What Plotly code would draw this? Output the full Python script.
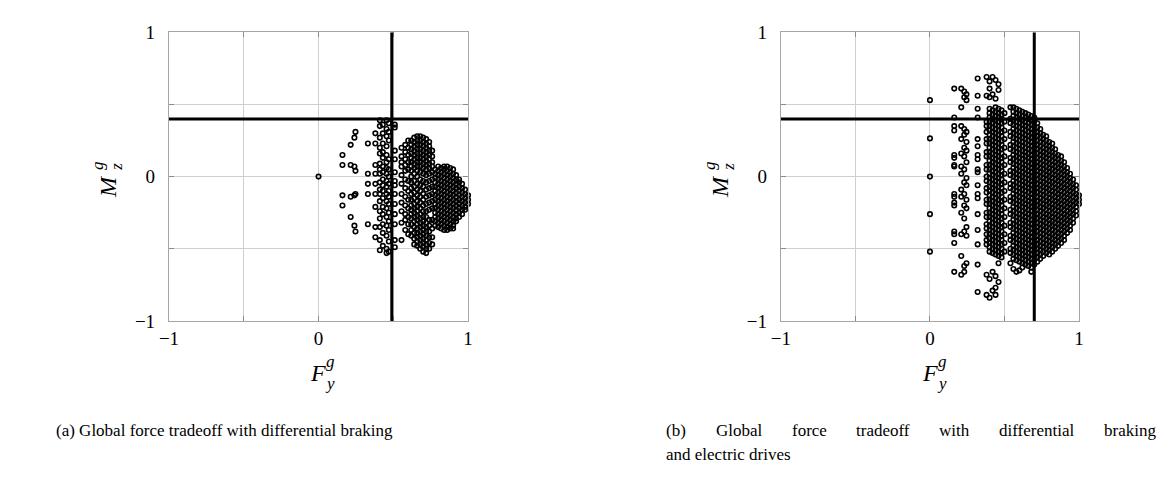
import plotly.graph_objects as go

# ---------------- data ----------------
tick_vals = [-1, -0.5, 0, 0.5, 1]
tick_text = ["\u22121", "", "0", "", "1"]

a_hline = 0.4
a_vline = 0.49
b_hline = 0.4
b_vline = 0.70

# (a) differential braking: points grouped by column (x) with their M_z values
a_col_x = [0.0, 0.16, 0.215, 0.24, 0.247, 0.33, 0.38, 0.41, 0.43, 0.455, 0.47, 0.51,
           0.555, 0.58, 0.60, 0.62, 0.64, 0.66, 0.68, 0.70, 0.72, 0.74, 0.76,
           0.78, 0.80, 0.82, 0.84, 0.86, 0.88, 0.90, 0.92, 0.94, 0.96, 0.98, 1.00]
a_col_y = [
    [0.0],
    [0.15, 0.08, -0.13, -0.2],
    [0.22, 0.08, -0.14, -0.28],
    [0.27, 0.07, -0.13, -0.34],
    [0.31, 0.04, -0.12, -0.38],
    [0.23, 0.02, -0.05, -0.12, -0.33],
    [0.3, 0.23, 0.08, 0.02, -0.05, -0.12, -0.21, -0.35, -0.42],
    [0.39, 0.35, 0.27, 0.2, 0.16, 0.09, 0.05, 0.02, -0.04, -0.09, -0.12, -0.17, -0.24, -0.29, -0.35, -0.44, -0.51],
    [0.36, 0.3, 0.23, 0.17, 0.13, 0.07, 0.03, -0.02, -0.06, -0.1, -0.15, -0.21, -0.26, -0.33, -0.39, -0.48],
    [0.39, 0.33, 0.28, 0.21, 0.15, 0.1, 0.06, 0.02, -0.03, -0.07, -0.12, -0.17, -0.22, -0.28, -0.34, -0.41, -0.5, -0.53],
    [0.37, 0.31, 0.25, 0.12, 0.05, 0.0, -0.05, -0.1, -0.14, -0.19, -0.25, -0.31, -0.37, -0.45, -0.52],
    [0.36, 0.34, 0.18, 0.12, 0.03, -0.03, -0.06, -0.12, -0.19, -0.26, -0.33, -0.44, -0.49],
    [0.2, 0.14, 0.1, 0.07, 0.01, -0.05, -0.12, -0.18, -0.24, -0.32, -0.44],
    [0.22, 0.17, 0.12, 0.08, 0.04, -0.02, -0.08, -0.14, -0.2, -0.26, -0.3, -0.37],
    [0.25, 0.2, 0.15, 0.1, 0.05, -0.03, -0.1, -0.16, -0.22, -0.28, -0.33, -0.4],
    [0.25, 0.22, 0.19, 0.16, 0.13, 0.1, 0.07, 0.04, 0.0, -0.04, -0.08, -0.12, -0.16, -0.2, -0.23, -0.26, -0.29, -0.33, -0.37, -0.41],
    [0.27, 0.24, 0.21, 0.18, 0.15, 0.12, 0.09, 0.06, 0.02, -0.03, -0.07, -0.11, -0.15, -0.19, -0.22, -0.25, -0.28, -0.31, -0.35, -0.39, -0.43, -0.47],
    [0.28, 0.25, 0.22, 0.19, 0.16, 0.13, 0.1, 0.07, 0.04, 0.0, -0.05, -0.09, -0.13, -0.17, -0.21, -0.24, -0.27, -0.3, -0.33, -0.36, -0.39, -0.42, -0.45, -0.48],
    [0.28, 0.25, 0.22, 0.19, 0.16, 0.13, 0.1, 0.07, 0.03, -0.02, -0.06, -0.1, -0.14, -0.18, -0.22, -0.26, -0.29, -0.32, -0.35, -0.38, -0.41, -0.44, -0.47, -0.5],
    [0.27, 0.24, 0.21, 0.18, 0.15, 0.12, 0.09, 0.06, 0.02, -0.03, -0.07, -0.12, -0.16, -0.2, -0.24, -0.28, -0.31, -0.34, -0.37, -0.4, -0.43, -0.46, -0.49, -0.52],
    [0.26, 0.23, 0.2, 0.17, 0.14, 0.11, 0.08, 0.05, 0.01, -0.04, -0.09, -0.14, -0.19, -0.24, -0.28, -0.32, -0.35, -0.38, -0.41, -0.44, -0.47, -0.5, -0.53],
    [0.24, 0.21, 0.18, 0.15, 0.12, 0.09, 0.06, 0.02, -0.03, -0.08, -0.13, -0.18, -0.23, -0.3, -0.34, -0.38, -0.42, -0.46, -0.5],
    [0.18, 0.14, 0.1, 0.07, 0.03, -0.02, -0.07, -0.12, -0.17, -0.22, -0.3, -0.36, -0.42, -0.47],
    [0.05, 0.02, -0.01, -0.04, -0.07, -0.1, -0.13, -0.16, -0.19, -0.22, -0.25, -0.28, -0.31, -0.34],
    [0.07, 0.04, 0.01, -0.02, -0.05, -0.08, -0.11, -0.14, -0.17, -0.2, -0.23, -0.26, -0.29, -0.32, -0.35],
    [0.06, 0.03, 0.0, -0.03, -0.06, -0.09, -0.12, -0.15, -0.18, -0.21, -0.24, -0.27, -0.3, -0.33, -0.36],
    [0.07, 0.05, 0.02, -0.01, -0.04, -0.07, -0.1, -0.13, -0.16, -0.19, -0.22, -0.25, -0.28, -0.31, -0.34, -0.37],
    [0.07, 0.04, 0.01, -0.02, -0.05, -0.08, -0.11, -0.14, -0.17, -0.2, -0.23, -0.26, -0.29, -0.32, -0.35, -0.37],
    [0.06, 0.03, 0.0, -0.03, -0.06, -0.09, -0.12, -0.15, -0.18, -0.21, -0.24, -0.27, -0.3, -0.33, -0.36],
    [0.05, 0.02, -0.01, -0.04, -0.07, -0.1, -0.13, -0.16, -0.19, -0.22, -0.25, -0.28, -0.31, -0.34, -0.36],
    [0.01, -0.02, -0.05, -0.08, -0.11, -0.14, -0.17, -0.2, -0.23, -0.26, -0.29, -0.31],
    [-0.02, -0.04, -0.07, -0.1, -0.13, -0.16, -0.19, -0.22, -0.25, -0.28],
    [-0.05, -0.08, -0.11, -0.14, -0.17, -0.2, -0.23, -0.26],
    [-0.09, -0.12, -0.15, -0.18, -0.21, -0.23],
    [-0.13, -0.16, -0.19],
]

# (b) differential braking and electric drives
b_col_x = [0.0, 0.163, 0.21, 0.23, 0.245, 0.32, 0.38, 0.40, 0.42, 0.44, 0.46, 0.48, 0.50,
           0.54, 0.56, 0.58, 0.60, 0.62, 0.64, 0.66, 0.68,
           0.70, 0.72, 0.74, 0.76, 0.78, 0.80, 0.82, 0.84, 0.86, 0.88, 0.90, 0.92, 0.94, 0.96, 0.98, 1.00]
b_col_y = [
    [0.53, 0.265, 0.0, -0.26, -0.52],
    [0.61, 0.41, 0.35, 0.32, 0.15, 0.13, 0.08, 0.07, -0.12, -0.14, -0.18, -0.2, -0.38, -0.4, -0.46, -0.66],
    [0.61, 0.48, 0.35, 0.26, 0.16, 0.07, 0.02, -0.09, -0.14, -0.25, -0.4, -0.55, -0.68],
    [0.59, 0.55, 0.33, 0.29, 0.2, 0.14, 0.05, -0.04, -0.12, -0.2, -0.29, -0.38, -0.62, -0.66],
    [0.57, 0.53, 0.31, 0.24, 0.18, 0.1, -0.01, -0.06, -0.16, -0.22, -0.35, -0.41, -0.6],
    [0.68, 0.56, 0.47, 0.41, 0.26, 0.21, 0.15, 0.12, 0.05, 0.03, -0.06, -0.12, -0.15, -0.26, -0.37, -0.47, -0.61, -0.8],
    [0.69, 0.56, 0.38, 0.35, 0.31, 0.26, 0.23, 0.17, 0.14, 0.08, 0.05, 0.0, -0.03, -0.08, -0.11, -0.16, -0.19, -0.25, -0.28, -0.33, -0.36, -0.4, -0.44, -0.47, -0.68, -0.82],
    [0.66, 0.61, 0.55, 0.47, 0.44, 0.41, 0.38, 0.35, 0.32, 0.29, 0.26, 0.23, 0.2, 0.17, 0.14, 0.11, 0.08, 0.05, 0.02, -0.01, -0.04, -0.07, -0.1, -0.13, -0.16, -0.19, -0.22, -0.25, -0.28, -0.31, -0.34, -0.37, -0.4, -0.43, -0.46, -0.49, -0.52, -0.71, -0.84],
    [0.69, 0.57, 0.46, 0.43, 0.4, 0.37, 0.34, 0.31, 0.28, 0.25, 0.22, 0.19, 0.16, 0.13, 0.1, 0.07, 0.04, 0.01, -0.02, -0.05, -0.08, -0.11, -0.14, -0.17, -0.2, -0.23, -0.26, -0.29, -0.32, -0.35, -0.38, -0.41, -0.44, -0.47, -0.5, -0.53, -0.66, -0.79],
    [0.67, 0.54, 0.48, 0.45, 0.42, 0.39, 0.36, 0.33, 0.3, 0.27, 0.24, 0.21, 0.18, 0.15, 0.12, 0.09, 0.06, 0.03, 0.0, -0.03, -0.06, -0.09, -0.12, -0.15, -0.18, -0.21, -0.24, -0.27, -0.3, -0.33, -0.36, -0.39, -0.42, -0.45, -0.48, -0.51, -0.54, -0.69, -0.77, -0.82],
    [0.64, 0.6, 0.47, 0.44, 0.41, 0.38, 0.35, 0.32, 0.29, 0.26, 0.23, 0.2, 0.17, 0.14, 0.11, 0.08, 0.05, 0.02, -0.01, -0.04, -0.07, -0.1, -0.13, -0.16, -0.19, -0.22, -0.25, -0.28, -0.31, -0.34, -0.37, -0.4, -0.43, -0.46, -0.49, -0.52, -0.55, -0.6, -0.73],
    [0.46, 0.43, 0.4, 0.37, 0.34, 0.31, 0.28, 0.25, 0.22, 0.19, 0.16, 0.13, 0.1, 0.07, 0.04, 0.01, -0.02, -0.05, -0.08, -0.11, -0.14, -0.17, -0.2, -0.23, -0.26, -0.29, -0.32, -0.35, -0.38, -0.41, -0.44, -0.47, -0.5, -0.53, -0.56],
    [0.44, 0.38, 0.32, 0.26, 0.2, 0.14, 0.08, 0.02, -0.04, -0.1, -0.16, -0.22, -0.28, -0.34, -0.4, -0.46, -0.52],
    [0.48, 0.4, 0.37, 0.31, 0.28, 0.22, 0.19, 0.13, 0.1, 0.04, 0.01, -0.05, -0.08, -0.14, -0.17, -0.23, -0.26, -0.32, -0.35, -0.41, -0.44, -0.5, -0.53, -0.6],
    [0.48, 0.45, 0.42, 0.39, 0.36, 0.33, 0.3, 0.27, 0.24, 0.21, 0.18, 0.15, 0.12, 0.09, 0.06, 0.03, 0.0, -0.03, -0.06, -0.09, -0.12, -0.15, -0.18, -0.21, -0.24, -0.27, -0.3, -0.33, -0.36, -0.39, -0.42, -0.45, -0.48, -0.51, -0.54, -0.57, -0.64],
    [0.47, 0.44, 0.41, 0.38, 0.35, 0.32, 0.29, 0.26, 0.23, 0.2, 0.17, 0.14, 0.11, 0.08, 0.05, 0.02, -0.01, -0.04, -0.07, -0.1, -0.13, -0.16, -0.19, -0.22, -0.25, -0.28, -0.31, -0.34, -0.37, -0.4, -0.43, -0.46, -0.49, -0.52, -0.55, -0.58, -0.66],
    [0.46, 0.43, 0.4, 0.37, 0.34, 0.31, 0.28, 0.25, 0.22, 0.19, 0.16, 0.13, 0.1, 0.07, 0.04, 0.01, -0.02, -0.05, -0.08, -0.11, -0.14, -0.17, -0.2, -0.23, -0.26, -0.29, -0.32, -0.35, -0.38, -0.41, -0.44, -0.47, -0.5, -0.53, -0.56, -0.59, -0.65],
    [0.45, 0.42, 0.39, 0.36, 0.33, 0.3, 0.27, 0.24, 0.21, 0.18, 0.15, 0.12, 0.09, 0.06, 0.03, 0.0, -0.03, -0.06, -0.09, -0.12, -0.15, -0.18, -0.21, -0.24, -0.27, -0.3, -0.33, -0.36, -0.39, -0.42, -0.45, -0.48, -0.51, -0.54, -0.57, -0.6, -0.63],
    [0.44, 0.41, 0.38, 0.35, 0.32, 0.29, 0.26, 0.23, 0.2, 0.17, 0.14, 0.11, 0.08, 0.05, 0.02, -0.01, -0.04, -0.07, -0.1, -0.13, -0.16, -0.19, -0.22, -0.25, -0.28, -0.31, -0.34, -0.37, -0.4, -0.43, -0.46, -0.49, -0.52, -0.55, -0.58, -0.61],
    [0.43, 0.4, 0.37, 0.34, 0.31, 0.28, 0.25, 0.22, 0.19, 0.16, 0.13, 0.1, 0.07, 0.04, 0.01, -0.02, -0.05, -0.08, -0.11, -0.14, -0.17, -0.2, -0.23, -0.26, -0.29, -0.32, -0.35, -0.38, -0.41, -0.44, -0.47, -0.5, -0.53, -0.56, -0.59, -0.62],
    [0.42, 0.39, 0.36, 0.33, 0.3, 0.27, 0.24, 0.21, 0.18, 0.15, 0.12, 0.09, 0.06, 0.03, 0.0, -0.03, -0.06, -0.09, -0.12, -0.15, -0.18, -0.21, -0.24, -0.27, -0.3, -0.33, -0.36, -0.39, -0.42, -0.45, -0.48, -0.51, -0.54, -0.57, -0.6, -0.63, -0.66],
    [0.41, 0.38, 0.35, 0.32, 0.29, 0.26, 0.23, 0.2, 0.17, 0.14, 0.11, 0.08, 0.05, 0.02, -0.01, -0.04, -0.07, -0.1, -0.13, -0.16, -0.19, -0.22, -0.25, -0.28, -0.31, -0.34, -0.37, -0.4, -0.43, -0.46, -0.49, -0.52, -0.55, -0.58, -0.61],
    [0.37, 0.34, 0.31, 0.28, 0.25, 0.22, 0.19, 0.16, 0.13, 0.1, 0.07, 0.04, 0.01, -0.02, -0.05, -0.08, -0.11, -0.14, -0.17, -0.2, -0.23, -0.26, -0.29, -0.32, -0.35, -0.38, -0.41, -0.44, -0.47, -0.5, -0.53, -0.56, -0.59],
    [0.33, 0.3, 0.27, 0.24, 0.21, 0.18, 0.15, 0.12, 0.09, 0.06, 0.03, 0.0, -0.03, -0.06, -0.09, -0.12, -0.15, -0.18, -0.21, -0.24, -0.27, -0.3, -0.33, -0.36, -0.39, -0.42, -0.45, -0.48, -0.51, -0.54, -0.57],
    [0.29, 0.26, 0.23, 0.2, 0.17, 0.14, 0.11, 0.08, 0.05, 0.02, -0.01, -0.04, -0.07, -0.1, -0.13, -0.16, -0.19, -0.22, -0.25, -0.28, -0.31, -0.34, -0.37, -0.4, -0.43, -0.46, -0.49, -0.52, -0.55],
    [0.28, 0.25, 0.22, 0.19, 0.16, 0.13, 0.1, 0.07, 0.04, 0.01, -0.02, -0.05, -0.08, -0.11, -0.14, -0.17, -0.2, -0.23, -0.26, -0.29, -0.32, -0.35, -0.38, -0.41, -0.44, -0.47, -0.5, -0.53],
    [0.24, 0.21, 0.18, 0.15, 0.12, 0.09, 0.06, 0.03, 0.0, -0.03, -0.06, -0.09, -0.12, -0.15, -0.18, -0.21, -0.24, -0.27, -0.3, -0.33, -0.36, -0.39, -0.42, -0.45, -0.48, -0.51, -0.54],
    [0.23, 0.2, 0.17, 0.14, 0.11, 0.08, 0.05, 0.02, -0.01, -0.04, -0.07, -0.1, -0.13, -0.16, -0.19, -0.22, -0.25, -0.28, -0.31, -0.34, -0.37, -0.4, -0.43, -0.46, -0.49, -0.52],
    [0.19, 0.16, 0.13, 0.1, 0.07, 0.04, 0.01, -0.02, -0.05, -0.08, -0.11, -0.14, -0.17, -0.2, -0.23, -0.26, -0.29, -0.32, -0.35, -0.38, -0.41, -0.44, -0.47, -0.5],
    [0.15, 0.12, 0.09, 0.06, 0.03, 0.0, -0.03, -0.06, -0.09, -0.12, -0.15, -0.18, -0.21, -0.24, -0.27, -0.3, -0.33, -0.36, -0.39, -0.42, -0.45, -0.48],
    [0.14, 0.11, 0.08, 0.05, 0.02, -0.01, -0.04, -0.07, -0.1, -0.13, -0.16, -0.19, -0.22, -0.25, -0.28, -0.31, -0.34, -0.37, -0.4, -0.43, -0.46],
    [0.1, 0.07, 0.04, 0.01, -0.02, -0.05, -0.08, -0.11, -0.14, -0.17, -0.2, -0.23, -0.26, -0.29, -0.32, -0.35, -0.38, -0.41, -0.44],
    [0.06, 0.03, 0.0, -0.03, -0.06, -0.09, -0.12, -0.15, -0.18, -0.21, -0.24, -0.27, -0.3, -0.33, -0.36, -0.39],
    [0.02, -0.01, -0.04, -0.07, -0.1, -0.13, -0.16, -0.19, -0.22, -0.25, -0.28, -0.31, -0.34, -0.37],
    [-0.02, -0.05, -0.08, -0.11, -0.14, -0.17, -0.2, -0.23, -0.26, -0.29, -0.32],
    [-0.06, -0.09, -0.12, -0.15, -0.18, -0.21, -0.24, -0.27],
    [-0.13, -0.16, -0.19],
]

caption_a = "(a) Global force tradeoff with differential braking"
caption_b_words = ["(b)", "Global", "force", "tradeoff", "with", "differential", "braking"]
caption_b_line2 = "and electric drives"

# ---------------- build ----------------
# the page keeps an 8px body margin, so the figure is 1151x472 placed at (8, 8)
OFF = 8
W, H = 1167 - 2 * OFF, 488 - 2 * OFF
SERIF = "Liberation Serif"


def flatten(cx, cy):
    xs, ys = [], []
    for x, yl in zip(cx, cy):
        xs += [x] * len(yl)
        ys += list(yl)
    return xs, ys


ax_x, ax_y = flatten(a_col_x, a_col_y)
bx_x, bx_y = flatten(b_col_x, b_col_y)

marker = dict(symbol="circle-open", size=4.5, color="black", line=dict(width=1.6, color="black"))

fig = go.Figure()
fig.add_trace(go.Scatter(x=ax_x, y=ax_y, mode="markers", marker=marker, xaxis="x", yaxis="y",
                         cliponaxis=False, showlegend=False, hoverinfo="skip"))
fig.add_trace(go.Scatter(x=bx_x, y=bx_y, mode="markers", marker=marker, xaxis="x2", yaxis="y2",
                         cliponaxis=False, showlegend=False, hoverinfo="skip"))


def px(v):
    return (v - OFF) / W


def py(v):
    return 1 - (v - OFF) / H


axis_common = dict(range=[-1, 1], tickvals=tick_vals, ticktext=tick_text, showgrid=True,
                   gridcolor="#cfcfcf", gridwidth=1, zeroline=False, showline=True,
                   linecolor="#a6a6a6", linewidth=1.2, mirror="ticks", ticks="inside",
                   ticklen=5, tickcolor="#8c8c8c", tickwidth=1,
                   tickfont=dict(family=SERIF, size=19, color="black"))

ydom = [py(325), py(23)]
fig.update_layout(
    width=W, height=H, autosize=False, margin=dict(l=0, r=0, t=0, b=0, pad=0),
    paper_bgcolor="white", plot_bgcolor="white",
    xaxis=dict(domain=[px(161), px(464)], anchor="y", **axis_common),
    yaxis=dict(domain=ydom, anchor="x", ticklabelstandoff=9, **axis_common),
    xaxis2=dict(domain=[px(781), px(1083)], anchor="y2", **axis_common),
    yaxis2=dict(domain=ydom, anchor="x2", ticklabelstandoff=9, **axis_common),
)

# black threshold lines
for xr, yr, hv, vv in [("x", "y", a_hline, a_vline), ("x2", "y2", b_hline, b_vline)]:
    fig.add_shape(type="line", xref=xr, yref=yr, x0=-1, x1=1, y0=hv, y1=hv,
                  line=dict(color="black", width=3), layer="above")
    fig.add_shape(type="line", xref=xr, yref=yr, x0=vv, x1=vv, y0=-1, y1=1,
                  line=dict(color="black", width=3), layer="above")

ann = []


def add_text(text, x, y, size, angle=0, xanchor="center"):
    ann.append(dict(text=text, x=px(x), y=py(y), xref="paper", yref="paper",
                    showarrow=False, textangle=angle, xanchor=xanchor, yanchor="middle",
                    font=dict(family=SERIF, size=size, color="black")))


for dx in (0, 620):
    # F_y^g
    add_text("<i>F</i>", 312 + dx, 380, 24)
    add_text("<i>g</i>", 325 + dx, 367, 17)
    add_text("<i>y</i>", 324 + dx, 391, 17)
    # M_z^g (rotated)
    add_text("<i>M</i>", 99 + dx, 184, 24, angle=-90)
    add_text("<i>z</i>", 107 + dx, 164, 17, angle=-90)
    add_text("<i>g</i>", 88 + dx, 162, 17, angle=-90)

add_text(caption_a, 44, 440, 17, xanchor="left")
word_x = [663, 713.2, 789.9, 855.2, 939.4, 1000, 1105.9]
for w, xw in zip(caption_b_words, word_x):
    add_text(w, xw, 440, 17, xanchor="left")
add_text(caption_b_line2, 663, 465, 17, xanchor="left")

fig.update_layout(annotations=ann)

fig.write_html("out.html", config={"displayModeBar": False})
